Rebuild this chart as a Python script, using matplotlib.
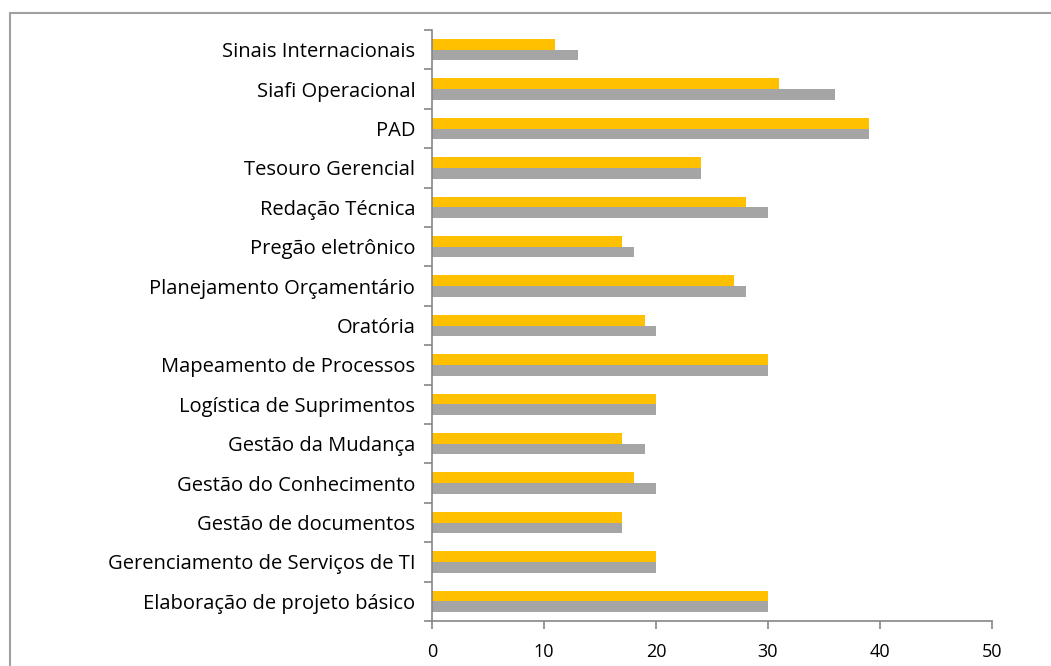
import matplotlib
matplotlib.use('Agg')
import matplotlib.pyplot as plt
import numpy as np
from matplotlib.patches import Rectangle

plt.rcParams['font.family'] = ['Open Sans', 'DejaVu Sans']

# categories from top to bottom
categories = ['Sinais Internacionais', 'Siafi Operacional', 'PAD', 'Tesouro Gerencial',
              'Redação Técnica', 'Pregão eletrônico', 'Planejamento Orçamentário', 'Oratória',
              'Mapeamento de Processos', 'Logística de Suprimentos', 'Gestão da Mudança',
              'Gestão do Conhecimento', 'Gestão de documentos', 'Gerenciamento de Serviços de TI',
              'Elaboração de projeto básico']
serie_laranja = [11, 31, 39, 24, 28, 17, 27, 19, 30, 20, 17, 18, 17, 20, 30]
serie_cinza = [13, 36, 39, 24, 30, 18, 28, 20, 30, 20, 19, 20, 17, 20, 30]

fig = plt.figure(figsize=(10.51, 6.66), dpi=100)
# chart area border (Excel style)
fig.patches.append(Rectangle((10 / 1051, -0.05), 1.1, 1 - 13 / 666 + 0.05, transform=fig.transFigure,
                             fill=False, edgecolor='#a0a0a0', linewidth=1.5))

ax = fig.add_axes([432 / 1051, 1 - 621 / 666, 560 / 1051, 591 / 666])

n = len(categories)
y = np.arange(n)[::-1]  # top category at highest y
h = 0.27
ax.barh(y + h / 2, serie_laranja, height=h, color='#FFC000', edgecolor='none')
ax.barh(y - h / 2, serie_cinza, height=h, color='#A5A5A5', edgecolor='none')

ax.set_xlim(0, 50)
ax.set_ylim(-0.5, n - 0.5)
ax.set_xticks(range(0, 51, 10))
ax.set_yticks(y)
ax.set_yticklabels(categories)
ax.set_yticks(np.arange(-0.5, n, 1), minor=True)

for s in ['top', 'right']:
    ax.spines[s].set_visible(False)
for s in ['left', 'bottom']:
    ax.spines[s].set_color('#868686')
    ax.spines[s].set_linewidth(1.2)

ax.tick_params(axis='y', which='major', length=0, pad=12, labelsize=14.5)
ax.tick_params(axis='y', which='minor', length=6, color='#868686', width=1.2)
ax.tick_params(axis='x', length=6, color='#868686', width=1.2, pad=10, labelsize=13)

fig.savefig('out.png', dpi=100)
